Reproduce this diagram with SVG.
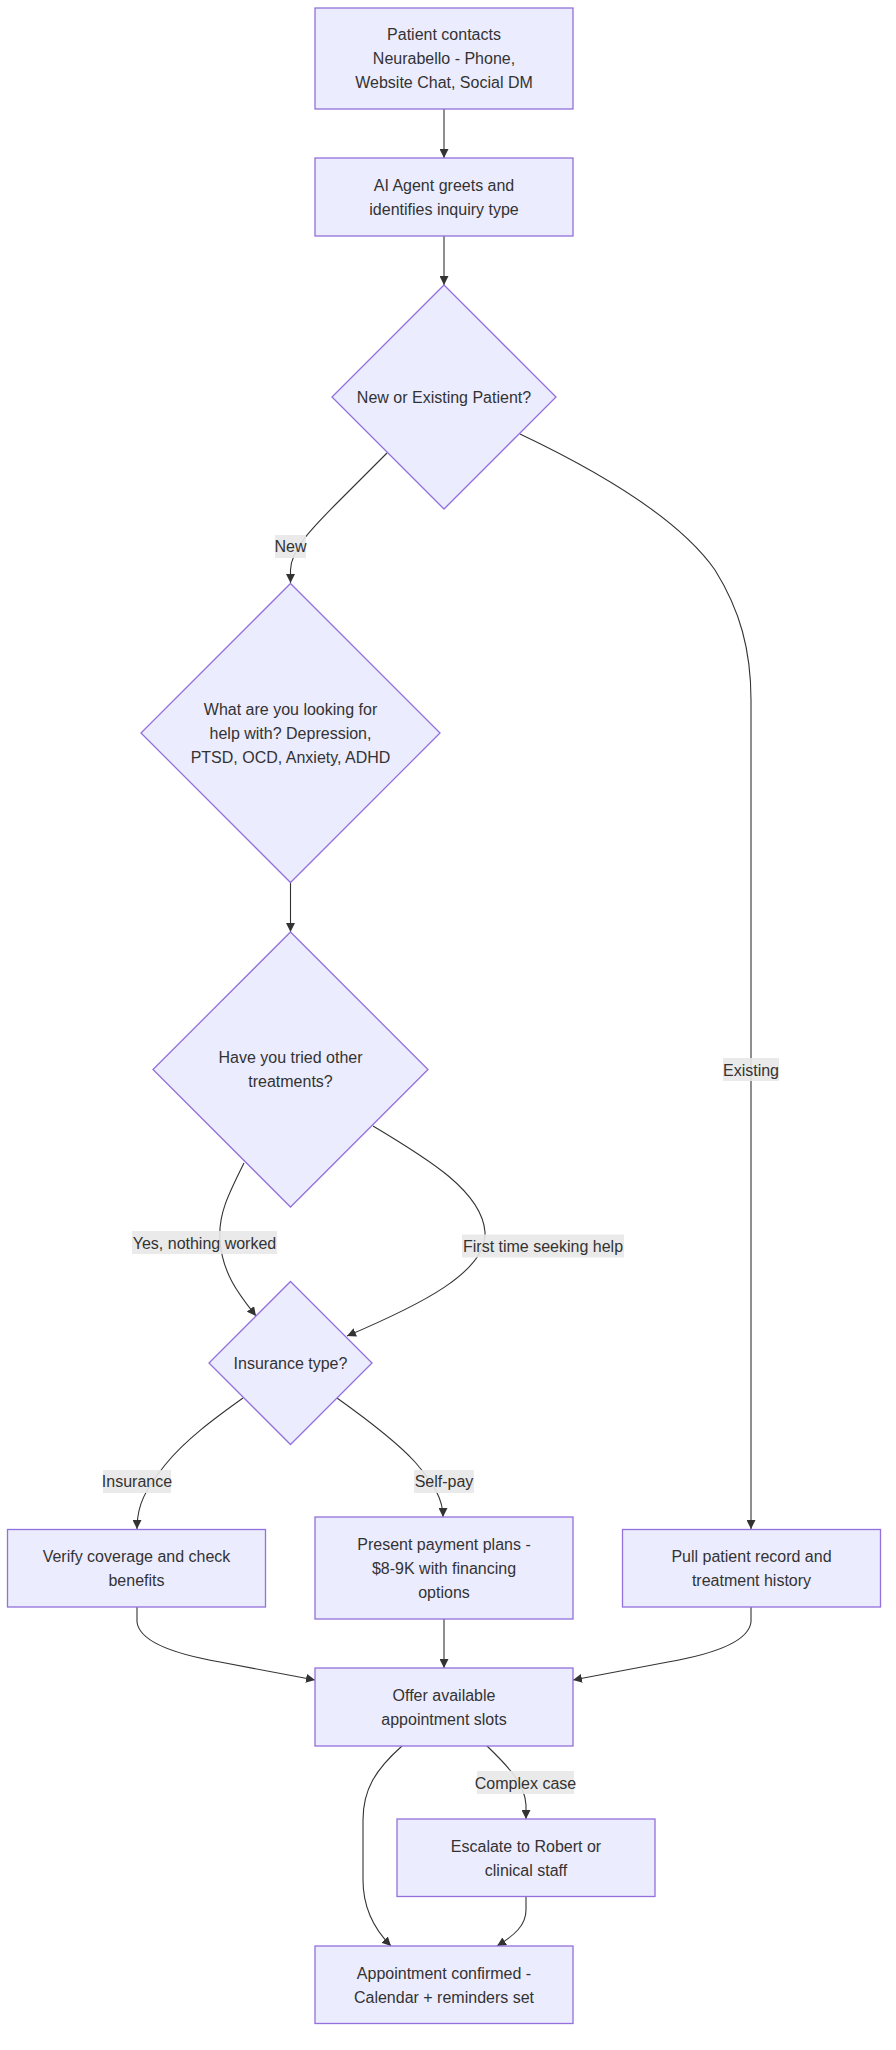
<svg xmlns="http://www.w3.org/2000/svg" width="896" height="2050" viewBox="0 0 896 2050">
<style>
.node rect,.node polygon{fill:#ECECFF;stroke:#9370DB;stroke-width:1.3}
.node text,.lbl text{font-family:"Liberation Sans",Arial,sans-serif;font-size:16px;fill:#333;text-anchor:middle}
.edge{fill:none;stroke:#333;stroke-width:1.1}
.lbl rect{fill:#e8e8e8;opacity:0.9}
</style>
<defs>
<marker id="arr" viewBox="0 0 10 10" refX="10" refY="5" markerUnits="userSpaceOnUse" markerWidth="9" markerHeight="9" orient="auto">
<path d="M0,0 L10,5 L0,10 z" fill="#333"/>
</marker>
</defs>
<rect width="896" height="2050" fill="#fff"/>
<g id="connectors">
<path class="edge" marker-end="url(#arr)" d="M444,109 L444,158"/>
<path class="edge" marker-end="url(#arr)" d="M444,236 L444,285"/>
<path class="edge" marker-end="url(#arr)" d="M387,453 L340,500 C310,530 291,550 290.5,570 L290.5,583"/>
<path class="edge" marker-end="url(#arr)" d="M520,434 C600,472 680,520 715,570 C740,610 751,650 751,700 L751,1529"/>
<path class="edge" marker-end="url(#arr)" d="M290.5,882 L290.5,932"/>
<path class="edge" marker-end="url(#arr)" d="M244,1163 C228,1195 218,1215 220,1240 C222,1275 242,1298 256,1316"/>
<path class="edge" marker-end="url(#arr)" d="M373,1126 C430,1160 482,1192 485,1232 C487,1272 420,1305 347,1336"/>
<path class="edge" marker-end="url(#arr)" d="M243,1398 C215,1418 185,1440 165,1465 C145,1490 137,1505 137,1529"/>
<path class="edge" marker-end="url(#arr)" d="M337,1398 C365,1418 395,1440 415,1462 C435,1485 443,1500 443,1517"/>
<path class="edge" marker-end="url(#arr)" d="M137,1607 L137,1622 Q140,1648 220,1662 L315,1680"/>
<path class="edge" marker-end="url(#arr)" d="M444,1619 L444,1668"/>
<path class="edge" marker-end="url(#arr)" d="M751,1607 L751,1622 Q748,1648 668,1662 L573,1680"/>
<path class="edge" marker-end="url(#arr)" d="M402,1746 C375,1770 363,1790 363,1820 L363,1880 C363,1910 375,1930 391,1946"/>
<path class="edge" marker-end="url(#arr)" d="M487,1746 C510,1768 525,1785 526,1805 L526,1819"/>
<path class="edge" marker-end="url(#arr)" d="M526,1896 L526,1910 C526,1925 515,1935 497,1946"/>
</g>
<g id="edge-labels">
<g class="lbl"><rect x="275" y="535" width="31" height="23"/><text x="290.5" y="552">New</text></g>
<g class="lbl"><rect x="723" y="1058" width="56" height="23"/><text x="751" y="1075.5">Existing</text></g>
<g class="lbl"><rect x="132" y="1231" width="145" height="23"/><text x="204.5" y="1248.5">Yes, nothing worked</text></g>
<g class="lbl"><rect x="462" y="1234.5" width="162" height="23"/><text x="543" y="1252">First time seeking help</text></g>
<g class="lbl"><rect x="103" y="1470" width="68" height="23"/><text x="137" y="1487">Insurance</text></g>
<g class="lbl"><rect x="414" y="1470" width="60" height="23"/><text x="444" y="1487">Self-pay</text></g>
<g class="lbl"><rect x="477" y="1771" width="97" height="23"/><text x="525.5" y="1788.5">Complex case</text></g>
</g>
<g id="A" class="node"><rect x="315" y="8" width="258" height="101"/><text x="444" y="39.5">Patient contacts</text><text x="444" y="63.5">Neurabello - Phone,</text><text x="444" y="87.5">Website Chat, Social DM</text></g>
<g id="B" class="node"><rect x="315" y="158" width="258" height="78"/><text x="444" y="190.5">AI Agent greets and</text><text x="444" y="214.5">identifies inquiry type</text></g>
<g id="C" class="node"><polygon points="444,285 556,397 444,509 332,397"/><text x="444" y="402.5">New or Existing Patient?</text></g>
<g id="D" class="node"><polygon points="290.5,583.5 440,733 290.5,882.5 141,733"/><text x="290.5" y="714.5">What are you looking for</text><text x="290.5" y="738.5">help with? Depression,</text><text x="290.5" y="762.5">PTSD, OCD, Anxiety, ADHD</text></g>
<g id="E" class="node"><polygon points="290.5,932 428,1069.5 290.5,1207 153,1069.5"/><text x="290.5" y="1063">Have you tried other</text><text x="290.5" y="1087">treatments?</text></g>
<g id="F" class="node"><polygon points="290.5,1281.5 372,1363 290.5,1444.5 209,1363"/><text x="290.5" y="1368.5">Insurance type?</text></g>
<g id="G" class="node"><rect x="7.5" y="1529.5" width="258" height="77.5"/><text x="136.5" y="1562">Verify coverage and check</text><text x="136.5" y="1586">benefits</text></g>
<g id="H" class="node"><rect x="315" y="1517" width="258" height="102"/><text x="444" y="1549.5">Present payment plans -</text><text x="444" y="1573.5">$8-9K with financing</text><text x="444" y="1597.5">options</text></g>
<g id="I" class="node"><rect x="622.5" y="1529.5" width="258" height="77.5"/><text x="751.5" y="1562">Pull patient record and</text><text x="751.5" y="1586">treatment history</text></g>
<g id="J" class="node"><rect x="315" y="1668" width="258" height="78"/><text x="444" y="1700.5">Offer available</text><text x="444" y="1724.5">appointment slots</text></g>
<g id="K" class="node"><rect x="397" y="1819" width="258" height="77.5"/><text x="526" y="1851.5">Escalate to Robert or</text><text x="526" y="1875.5">clinical staff</text></g>
<g id="L" class="node"><rect x="315" y="1946" width="258" height="77.5"/><text x="444" y="1978.5">Appointment confirmed -</text><text x="444" y="2002.5">Calendar + reminders set</text></g>
</svg>
